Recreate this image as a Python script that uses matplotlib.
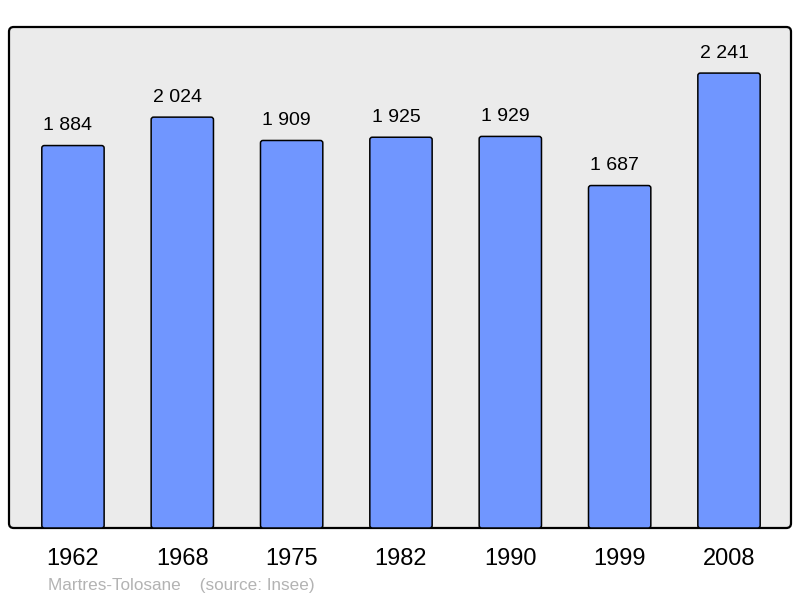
import matplotlib
matplotlib.use("Agg")
import matplotlib.pyplot as plt
from matplotlib.patches import FancyBboxPatch
import matplotlib.transforms as mtransforms

years = ["1962", "1968", "1975", "1982", "1990", "1999", "2008"]
population = [1884, 2024, 1909, 1925, 1929, 1687, 2241]
value_labels = ["1 884", "2 024", "1 909", "1 925", "1 929", "1 687", "2 241"]
source_text = "Martres-Tolosane    (source: Insee)"

plt.rcParams['font.family'] = ['Liberation Sans', 'DejaVu Sans']

W, H = 800, 598
fig = plt.figure(figsize=(W/100, H/100), dpi=100)
ax = fig.add_axes([9/W, 70/H, 782/W, 501/H])
ax.set_facecolor('none')
for s in ax.spines.values():
    s.set_visible(False)

# rounded background frame
frame = FancyBboxPatch((0, 0), 1, 1, boxstyle="round,pad=0,rounding_size=0.006",
                       transform=ax.transAxes, facecolor='#ebebeb', edgecolor='black',
                       linewidth=1.6, zorder=0, mutation_aspect=782/501, clip_on=False)
ax.add_patch(frame)

ax.set_xlim(-0.585, 6.567)
ax.set_ylim(0, 2468)

x = list(range(len(years)))
bars = ax.bar(x, population, width=0.57, color='#7096ff', edgecolor='black', linewidth=1.1, zorder=2)

# replace bars with slightly rounded versions of the same geometry
px_per_x = 782 / (6.567 + 0.585)
px_per_y = 501 / 2468
r_px = 2.5
for b in bars:
    bx, by, bw, bh = b.get_x(), b.get_y(), b.get_width(), b.get_height()
    rb = FancyBboxPatch((bx, by), bw, bh,
                        boxstyle=f"round,pad=0,rounding_size={r_px/px_per_x}",
                        mutation_aspect=px_per_x / px_per_y,
                        facecolor='#7096ff', edgecolor='black', linewidth=1.1, zorder=2)
    ax.add_patch(rb)
    b.set_visible(False)

for xi, v, lab in zip(x, population, value_labels):
    ax.annotate(lab, (xi, v), xytext=(-3.6, 11), textcoords='offset points',
                ha='center', va='baseline', fontsize=14, color='black')

ax.set_yticks([])
ax.set_xticks([])
trans = mtransforms.blended_transform_factory(ax.transData, fig.transFigure)
for xi, yr in zip(x, years):
    ax.text(xi, 1 - 565/H, yr, transform=trans, ha='center', va='baseline',
            fontsize=17, color='black', clip_on=False)

fig.text(48/W, 1 - 590/H, source_text, fontsize=12.3, color='#b3b3b3', va='baseline', ha='left')

fig.savefig('out.png', dpi=100)
